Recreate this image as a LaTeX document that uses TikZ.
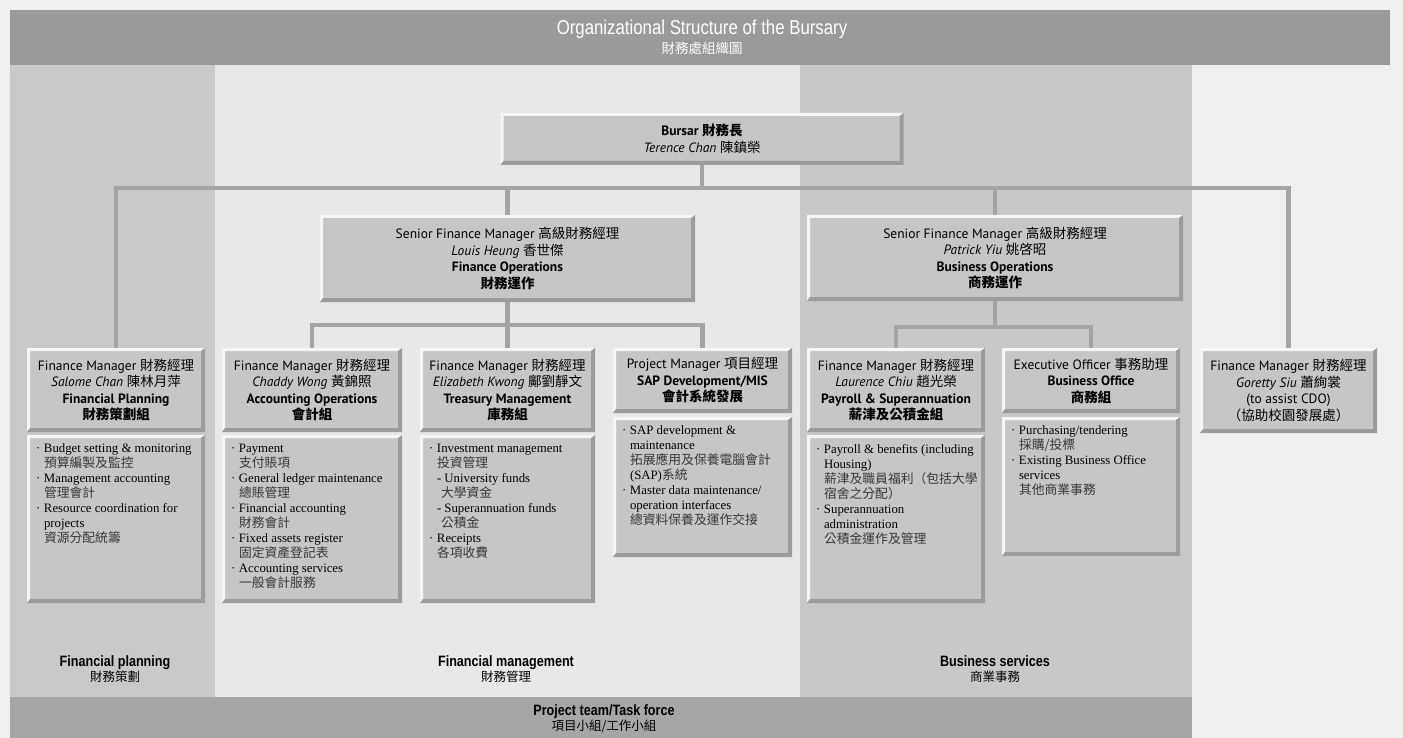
\documentclass[tikz,border=0pt]{standalone}
\usepackage{fontspec}
\setmainfont{Liberation Serif}
\newfontfamily\hdfont{PT Sans}
\newfontfamily\zhfont{Noto Sans CJK TC}
\newfontfamily\condfont[FakeStretch=0.84]{Liberation Sans}
\newcommand\zht[1]{{\zhfont #1}}
\newcommand\zhb[1]{{\zhfont\color{zhgray}#1}}
\newcommand\bul{\makebox[8pt][l]{·}}
\newcommand\ind{\hspace*{8pt}}
\definecolor{pagebg}{HTML}{EFEFEF}
\definecolor{titlegray}{HTML}{9A9A9A}
\definecolor{colA}{HTML}{C9C9C9}
\definecolor{colB}{HTML}{E8E8E8}
\definecolor{colC}{HTML}{C8C8C8}
\definecolor{bandgray}{HTML}{A6A6A6}
\definecolor{boxgray}{HTML}{C6C6C6}
\definecolor{bevdark}{HTML}{9C9C9C}
\definecolor{bevlight}{HTML}{F6F6F6}
\definecolor{conngray}{HTML}{A4A4A4}
\definecolor{zhgray}{HTML}{383838}
\pgfdeclarelayer{back}
\pgfdeclarelayer{conn}
\pgfsetlayers{back,conn,main}
\tikzset{
  bevel/.style={path picture={
    \fill[bevlight] (path picture bounding box.north west) -- (path picture bounding box.north east)
      -- ([xshift=-4pt,yshift=-3pt]path picture bounding box.north east)
      -- ([xshift=3pt,yshift=-3pt]path picture bounding box.north west)
      -- ([xshift=3pt,yshift=4pt]path picture bounding box.south west)
      -- (path picture bounding box.south west) -- cycle;
    \fill[bevdark] (path picture bounding box.south west) -- (path picture bounding box.south east)
      -- (path picture bounding box.north east)
      -- ([xshift=-4pt,yshift=-3pt]path picture bounding box.north east)
      -- ([xshift=-4pt,yshift=4pt]path picture bounding box.south east)
      -- ([xshift=3pt,yshift=4pt]path picture bounding box.south west) -- cycle;
  }},
  hdr/.style={fill=boxgray, bevel, inner sep=0pt, align=center, text=black,
    font=\hdfont\fontsize{13.5}{16.5}\selectfont},
  bodybox/.style={fill=boxgray, bevel, inner sep=0pt},
  btxt/.style={anchor=north west, inner sep=0pt, align=left, text=black,
    font=\fontsize{12.8}{15}\selectfont},
  conn/.style={draw=conngray, line width=4.5pt, line join=miter},
  lbl/.style={align=center, inner sep=0pt, font=\condfont\bfseries\fontsize{15}{15}\selectfont}
}
\begin{document}
\begin{tikzpicture}[x=1pt,y=-1pt]
\useasboundingbox (0,0) rectangle (1403,738);
\begin{pgfonlayer}{back}
\fill[pagebg] (0,0) rectangle (1403,738);
\fill[colA] (10,65) rectangle (215,697);
\fill[colB] (215,65) rectangle (800,697);
\fill[colC] (800,65) rectangle (1192,697);
\fill[bandgray] (10,697) rectangle (1192,738);
\fill[titlegray] (10,10) rectangle (1390,65);
\end{pgfonlayer}

% title
\node[align=center, text=white, inner sep=0pt, font=\condfont\fontsize{20}{19}\selectfont] (title) at (702,37)
  {Organizational Structure of the Bursary\\ \zht{\fontsize{13.5}{17}\selectfont 財務處組織圖}};

% top
\node[hdr, minimum width=403pt, minimum height=52pt] (bursar) at (702,139)
  {\textbf{Bursar \zht{財務長}}\\ \textit{Terence Chan} \zht{陳鎮榮}};

\node[hdr, minimum width=375pt, minimum height=87pt] (sfm1) at (507.5,258.5)
  {Senior Finance Manager \zht{高級財務經理}\\ \textit{Louis Heung} \zht{香世傑}\\ \textbf{Finance Operations}\\ \textbf{\zht{財務運作}}};
\node[hdr, minimum width=376pt, minimum height=86pt] (sfm2) at (995,258)
  {Senior Finance Manager \zht{高級財務經理}\\ \textit{Patrick Yiu} \zht{姚啓昭}\\ \textbf{Business Operations}\\ \textbf{\zht{商務運作}}};

% manager headers
\node[hdr, minimum width=178pt, minimum height=84pt] (fp) at (116,390)
  {Finance Manager \zht{財務經理}\\ \textit{Salome Chan} \zht{陳林月萍}\\ \textbf{Financial Planning}\\ \textbf{\zht{財務策劃組}}};
\node[hdr, minimum width=180pt, minimum height=84pt] (ao) at (312,390)
  {Finance Manager \zht{財務經理}\\ \textit{Chaddy Wong} \zht{黃錦照}\\ \textbf{Accounting Operations}\\ \textbf{\zht{會計組}}};
\node[hdr, minimum width=175pt, minimum height=84pt] (tm) at (507.5,390)
  {Finance Manager \zht{財務經理}\\ \textit{Elizabeth Kwong} \zht{鄺劉靜文}\\ \textbf{Treasury Management}\\ \textbf{\zht{庫務組}}};
\node[hdr, minimum width=179pt, minimum height=65pt] (sap) at (702.5,380.5)
  {Project Manager \zht{項目經理}\\ \textbf{SAP Development/MIS}\\ \textbf{\zht{會計系統發展}}};
\node[hdr, minimum width=178pt, minimum height=84pt] (ps) at (896,390)
  {Finance Manager \zht{財務經理}\\ \textit{Laurence Chiu} \zht{趙光榮}\\ \textbf{Payroll \& Superannuation}\\ \textbf{\zht{薪津及公積金組}}};
\node[hdr, minimum width=178pt, minimum height=65pt] (bo) at (1091,380.5)
  {Executive Officer \zht{事務助理}\\ \textbf{Business Office}\\ \textbf{\zht{商務組}}};
\node[hdr, minimum width=177pt, minimum height=85pt] (gor) at (1288.5,390.5)
  {Finance Manager \zht{財務經理}\\ \textit{Goretty Siu} \zht{蕭絢裳}\\ (to assist CDO)\\ \zht{（協助校園發展處）}};

% body boxes
\node[bodybox, minimum width=178pt, minimum height=168pt] (fpb) at (116,519) {};
\node[bodybox, minimum width=180pt, minimum height=168pt] (aob) at (312,519) {};
\node[bodybox, minimum width=175pt, minimum height=168pt] (tmb) at (507.5,519) {};
\node[bodybox, minimum width=179pt, minimum height=140pt] (sapb) at (702.5,487) {};
\node[bodybox, minimum width=178pt, minimum height=168pt] (psb) at (896,519) {};
\node[bodybox, minimum width=178pt, minimum height=139pt] (bob) at (1091,486.5) {};

\node[btxt] (fpt) at ([xshift=9pt,yshift=-9pt]fpb.north west)
  {\bul Budget setting \& monitoring\\ \ind\zhb{預算編製及監控}\\ \bul Management accounting\\ \ind\zhb{管理會計}\\ \bul Resource coordination for\\ \ind projects\\ \ind\zhb{資源分配統籌}};
\node[btxt] (aot) at ([xshift=9pt,yshift=-9pt]aob.north west)
  {\bul Payment\\ \ind\zhb{支付賬項}\\ \bul General ledger maintenance\\ \ind\zhb{總賬管理}\\ \bul Financial accounting\\ \ind\zhb{財務會計}\\ \bul Fixed assets register\\ \ind\zhb{固定資產登記表}\\ \bul Accounting services\\ \ind\zhb{一般會計服務}};
\node[btxt] (tmt) at ([xshift=9pt,yshift=-9pt]tmb.north west)
  {\bul Investment management\\ \ind\zhb{投資管理}\\ \ind - University funds\\ \ind\hspace*{4pt}\zhb{大學資金}\\ \ind - Superannuation funds\\ \ind\hspace*{4pt}\zhb{公積金}\\ \bul Receipts\\ \ind\zhb{各項收費}};
\node[btxt] (sapt) at ([xshift=9pt,yshift=-9pt]sapb.north west)
  {\bul SAP development \&\\ \ind maintenance\\ \ind\zhb{拓展應用及保養電腦會計}\\ \ind (SAP)\zhb{系統}\\ \bul Master data maintenance/\\ \ind operation interfaces\\ \ind\zhb{總資料保養及運作交接}};
\node[btxt] (pst) at ([xshift=9pt,yshift=-9pt]psb.north west)
  {\bul Payroll \& benefits (including\\ \ind Housing)\\ \ind\zhb{薪津及職員福利（包括大學}\\ \ind\zhb{宿舍之分配）}\\ \bul Superannuation\\ \ind administration\\ \ind\zhb{公積金運作及管理}};
\node[btxt] (bot) at ([xshift=9pt,yshift=-9pt]bob.north west)
  {\bul Purchasing/tendering\\ \ind\zhb{採購/投標}\\ \bul Existing Business Office\\ \ind services\\ \ind\zhb{其他商業事務}};

% connectors
\coordinate (tb) at (702,188);
\coordinate (lb) at (507.5,325);
\coordinate (pb) at (995,327);
\begin{pgfonlayer}{conn}
\draw[conn] (bursar.south) -- (tb);
\draw[conn] (fp.north) |- (tb) -| (gor.north);
\draw[conn] (sfm1.north) -- (sfm1.north |- tb);
\draw[conn] (sfm2.north) -- (sfm2.north |- tb);
\draw[conn] (sfm1.south) -- (lb);
\draw[conn] (ao.north) |- (lb) -| (sap.north);
\draw[conn] (tm.north) -- (lb);
\draw[conn] (sfm2.south) -- (pb);
\draw[conn] (ps.north) |- (pb) -| (bo.north);
\end{pgfonlayer}

% column labels
\node[lbl] (lab1) at (115,669) {Financial planning\\ \zht{\mdseries\fontsize{12.5}{14}\selectfont 財務策劃}};
\node[lbl] (lab2) at (506,669) {Financial management\\ \zht{\mdseries\fontsize{12.5}{14}\selectfont 財務管理}};
\node[lbl] (lab3) at (995,669) {Business services\\ \zht{\mdseries\fontsize{12.5}{14}\selectfont 商業事務}};
\node[lbl] (lab4) at (604,719) {Project team/Task force\\ \zht{\mdseries\fontsize{12.5}{14}\selectfont 項目小組/工作小組}};
\end{tikzpicture}
\end{document}
